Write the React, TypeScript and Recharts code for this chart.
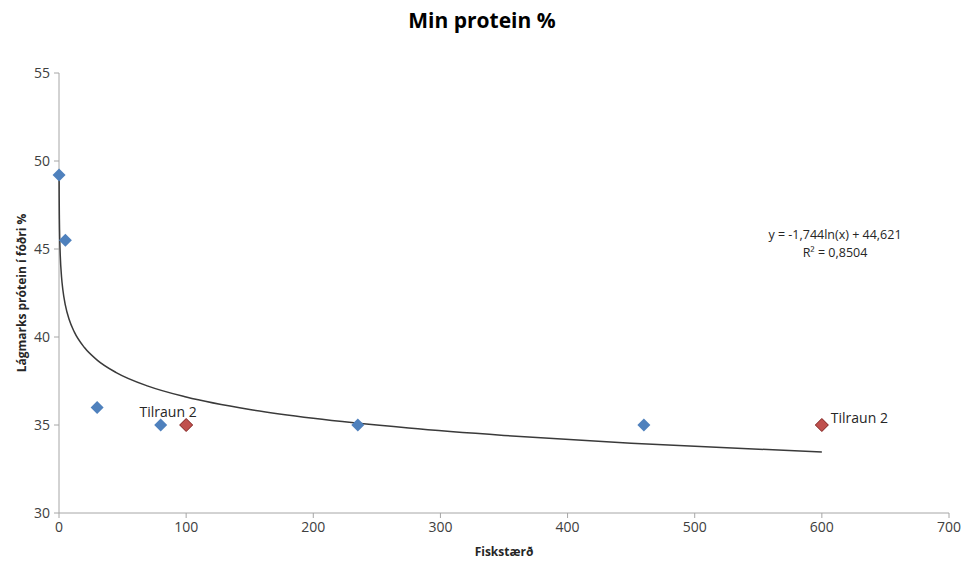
import { ScatterChart, Scatter, XAxis, YAxis, Label, LabelList } from "recharts";

// blue points (Fiskstærð, lágmarks prótein %)
const fishSize = [0.07, 5, 30, 80, 235, 460];
const minProtein = [49.2, 45.5, 36, 35, 35, 35];

// red points, "Tilraun 2"
const trialSize = [100, 600];
const trialProtein = [35, 35];

// log trendline
const trendX = [0.07, 0.15, 0.3, 0.6, 1, 2, 3, 5, 8, 12, 20, 30, 45, 70, 100, 150, 200, 275, 350, 450, 600];
const trendY = [49.26, 47.93, 46.72, 45.51, 44.62, 43.41, 42.7, 41.81, 40.99, 40.29, 39.4, 38.69, 37.98, 37.21, 36.59, 35.88, 35.38, 34.83, 34.41, 33.97, 33.46];

const xTicks = [0, 100, 200, 300, 400, 500, 600, 700];
const yTicks = [30, 35, 40, 45, 50, 55];

const points = fishSize.map((x, i) => ({ x, y: minProtein[i] }));
const trial = trialSize.map((x, i) => ({ x, y: trialProtein[i], name: "Tilraun 2" }));
const trend = trendX.map((x, i) => ({ x, y: trendY[i] }));

const FONT = "'Open Sans', 'Liberation Sans', sans-serif";

const Diamond = (fill: string, stroke?: string) => (props: any) => {
  const { cx, cy } = props;
  const r = 6.5;
  return (
    <polygon
      points={`${cx},${cy - r} ${cx + r},${cy} ${cx},${cy + r} ${cx - r},${cy}`}
      fill={fill}
      stroke={stroke || "none"}
      strokeWidth={stroke ? 1 : 0}
    />
  );
};

const TrialLabel = (props: any) => {
  const { x, y, width, height, index, value } = props;
  const cx = x + width / 2;
  const cy = y + height / 2;
  if (index === 0) {
    return (
      <text x={cx - 18} y={cy - 8} textAnchor="middle" fontSize={14} fill="#262626" fontFamily={FONT}>
        {value}
      </text>
    );
  }
  return (
    <text x={cx + 9} y={cy - 2} textAnchor="start" fontSize={14} fill="#262626" fontFamily={FONT}>
      {value}
    </text>
  );
};

const App = () => {
  return (
    <div style={{ position: "absolute", left: 0, top: 0, width: 964, height: 567, background: "#fff", fontFamily: FONT }}>
      <div style={{ position: "absolute", top: 6, width: 964, textAlign: "center", fontSize: 21, fontWeight: 700, color: "#000" }}>
        Min protein %
      </div>
      <div style={{ position: "absolute", left: 735, top: 226, width: 200, textAlign: "center", fontSize: 12.5, lineHeight: "18px", color: "#262626" }}>
        y = -1,744ln(x) + 44,621
        <br />
        R² = 0,8504
      </div>
      <ScatterChart width={964} height={567} margin={{ top: 73, right: 15, bottom: 24, left: 0 }}>
        <XAxis
          type="number"
          dataKey="x"
          domain={[0, 700]}
          ticks={xTicks}
          stroke="#a6a6a6"
          tickSize={5}
          tick={{ fill: "#404040", fontSize: 14, fontFamily: FONT }}
          tickMargin={4}
        >
          <Label value="Fiskstærð" position="bottom" offset={4} style={{ fontSize: 12, fontWeight: 700, fill: "#262626", fontFamily: FONT }} />
        </XAxis>
        <YAxis
          type="number"
          dataKey="y"
          domain={[30, 55]}
          ticks={yTicks}
          width={59}
          stroke="#a6a6a6"
          tickSize={5}
          tick={{ fill: "#404040", fontSize: 14, fontFamily: FONT }}
          tickMargin={4}
        >
          <Label
            value="Lágmarks prótein í fóðri %"
            angle={-90}
            position="insideLeft"
            offset={22}
            style={{ textAnchor: "middle", fontSize: 12, fontWeight: 700, fill: "#262626", fontFamily: FONT }}
          />
        </YAxis>
        <Scatter
          data={trend}
          line={{ stroke: "#3a3a3a", strokeWidth: 1.5 }}
          lineType="joint"
          lineJointType="monotoneX"
          shape={() => <g />}
          isAnimationActive={false}
        />
        <Scatter data={points} shape={Diamond("#4f81bd")} isAnimationActive={false} />
        <Scatter data={trial} shape={Diamond("#c0504d", "#7f1f1c")} isAnimationActive={false}>
          <LabelList dataKey="name" content={TrialLabel} />
        </Scatter>
      </ScatterChart>
    </div>
  );
};

export default App;
